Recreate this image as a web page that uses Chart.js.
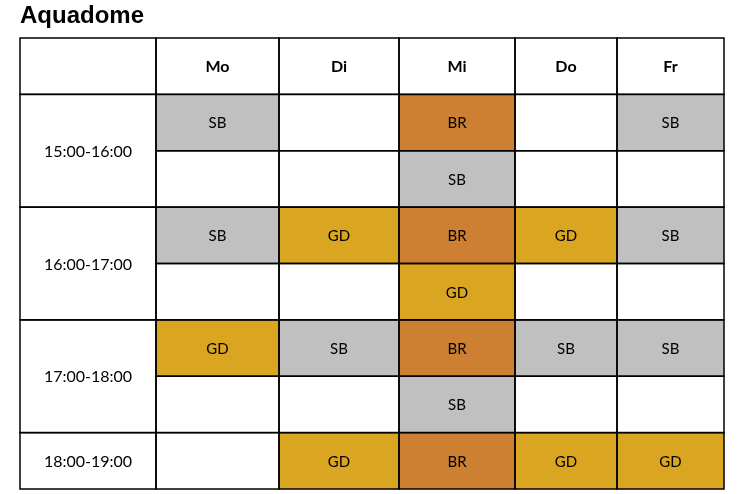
<!DOCTYPE html>
<html><head><meta charset="utf-8">
<script src="https://cdn.jsdelivr.net/npm/chart.js"></script>
<style>html,body{margin:0;padding:0;background:#fff}</style>
</head><body>
<div style="width:741px;height:494px"><canvas id="c"></canvas></div>
<script>
const title = "Aquadome";
const days = ["Mo","Di","Mi","Do","Fr"];
const rows = ["head","15a","15b","16a","16b","17a","17b","18"];
const timeSlots = ["15:00-16:00","16:00-17:00","17:00-18:00","18:00-19:00"];
const slotRows = [["15a","15b"],["16a","16b"],["17a","17b"],["18"]];
const Mo = ["SB","","SB","","GD","",""];
const Di = ["","","GD","","SB","","GD"];
const Mi = ["BR","SB","BR","GD","BR","SB","BR"];
const Do = ["","","GD","","SB","","GD"];
const Fr = ["SB","","SB","","SB","","GD"];
const schedule = [Mo,Di,Mi,Do,Fr];
// layout (not data): column edges in x units
const colEdges = [0,136,259,379,495,597,704];
const colors = {SB:"#c0c0c0",BR:"#cd7f32",GD:"#daa520","":"#ffffff"};
const FONT = "Lato, 'DejaVu Sans', sans-serif";

const datasets = schedule.map((col,d)=>({
  label: days[d],
  data: col.map((v,i)=>({y: rows[i+1], x:[colEdges[d+1], colEdges[d+2]], t:v})),
  backgroundColor: col.map(v=>colors[v]),
  borderWidth:0, grouped:false, barPercentage:1, categoryPercentage:1
}));

const tablePlugin = {
  id:"table",
  afterDatasetsDraw(chart){
    const ctx = chart.ctx, xs = chart.scales.x, ys = chart.scales.y;
    const half = (ys.getPixelForValue(1)-ys.getPixelForValue(0))/2;
    const top = r => ys.getPixelForValue(rows.indexOf(r)) - half;
    const bot = r => ys.getPixelForValue(rows.indexOf(r)) + half;
    const X = v => xs.getPixelForValue(v);
    ctx.save();
    ctx.strokeStyle="#000"; ctx.lineWidth=1.5;
    ctx.textAlign="center"; ctx.textBaseline="middle"; ctx.fillStyle="#000";
    // header
    ctx.strokeRect(X(colEdges[0]), top("head"), X(colEdges[1])-X(colEdges[0]), bot("head")-top("head"));
    ctx.font = "bold 16px "+FONT;
    days.forEach((d,i)=>{
      const x0=X(colEdges[i+1]), x1=X(colEdges[i+2]);
      ctx.strokeRect(x0, top("head"), x1-x0, bot("head")-top("head"));
      ctx.fillText(d,(x0+x1)/2,(top("head")+bot("head"))/2+1);
    });
    // time column
    ctx.font = "16px "+FONT;
    slotRows.forEach((sr,i)=>{
      const t=top(sr[0]), b=bot(sr[sr.length-1]);
      const x0=X(colEdges[0]), x1=X(colEdges[1]);
      ctx.strokeRect(x0,t,x1-x0,b-t);
      ctx.fillText(timeSlots[i],(x0+x1)/2,(t+b)/2+1);
    });
    // cells
    ctx.font = "15px "+FONT;
    schedule.forEach((col,d)=>{
      const x0=X(colEdges[d+1]), x1=X(colEdges[d+2]);
      col.forEach((v,i)=>{
        const r=rows[i+1], t=top(r), b=bot(r);
        ctx.strokeRect(x0,t,x1-x0,b-t);
        if(v) ctx.fillText(v,(x0+x1)/2,(t+b)/2+1);
      });
    });
    // title
    ctx.textAlign="left"; ctx.textBaseline="alphabetic";
    ctx.font="bold 24px 'Liberation Sans', Arial, sans-serif";
    ctx.fillText(title, 20, 23);
    ctx.restore();
  }
};

new Chart(document.getElementById("c"),{
  type:"bar",
  data:{labels:rows, datasets},
  options:{
    indexAxis:"y", responsive:true, maintainAspectRatio:false, animation:false,
    layout:{padding:{left:20,right:17,top:38,bottom:5}},
    plugins:{legend:{display:false},tooltip:{enabled:false}},
    scales:{
      x:{type:"linear",min:0,max:704,display:false},
      y:{type:"category",display:false,offset:true}
    }
  },
  plugins:[tablePlugin]
});
</script>
</body></html>
